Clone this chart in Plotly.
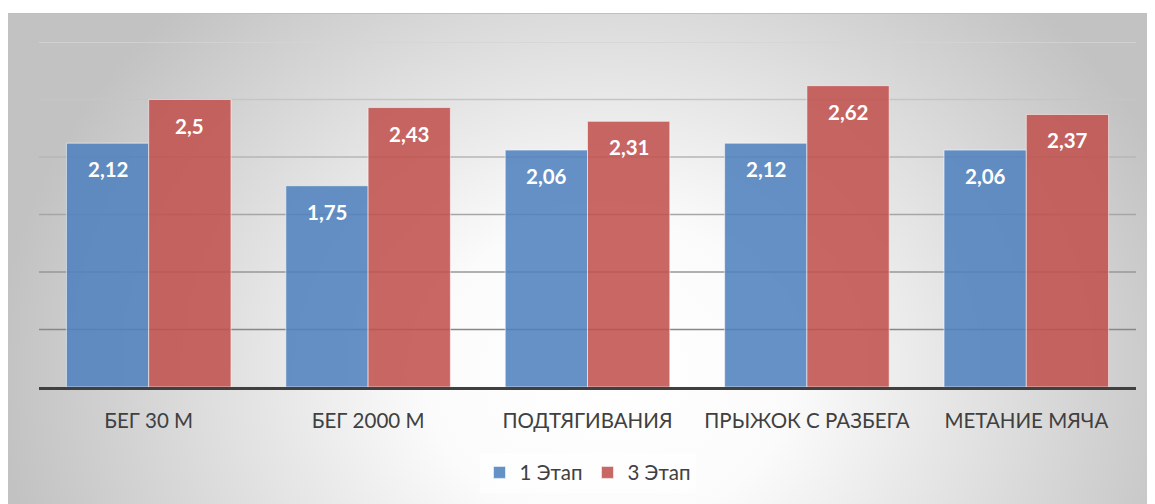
import base64
import plotly.graph_objects as go

categories = ["БЕГ 30 М", "БЕГ 2000 М", "ПОДТЯГИВАНИЯ", "ПРЫЖОК С РАЗБЕГА", "МЕТАНИЕ МЯЧА"]
stage1 = [2.12, 1.75, 2.06, 2.12, 2.06]
stage3 = [2.5, 2.43, 2.31, 2.62, 2.37]
series_names = ["1 Этап", "3 Этап"]
grid_values = [0.5, 1.0, 1.5, 2.0, 2.5, 3.0]

# page has an 8px body margin, so the figure is 8px smaller each way
W, H = 1147, 496
ML, MR, MT, MB = 31, 19, 34, 117
plot_w = W - ML - MR
plot_h = H - MT - MB
BARGAP = 0.25
BG_TOP = 5

blue = "rgba(79,129,189,0.87)"
red = "rgba(192,80,77,0.87)"

fig = go.Figure()
for name, vals, col in [(series_names[0], stage1, blue), (series_names[1], stage3, red)]:
    fig.add_trace(go.Bar(
        x=categories, y=vals, name=name,
        marker=dict(color=col, line=dict(color="rgba(255,255,255,0.55)", width=1)),
        hoverinfo="skip",
    ))

# background gradient (radial, white centre, grey edges)
bw, bh = W, H - BG_TOP
svg = (
    f"<svg xmlns='http://www.w3.org/2000/svg' width='{bw}' height='{bh}'>"
    "<defs><radialGradient id='g' gradientUnits='userSpaceOnUse' cx='600' cy='360' r='610' "
    "gradientTransform='translate(600 360) scale(1 0.85) translate(-600 -360)'>"
    "<stop offset='0' stop-color='#ffffff'/><stop offset='0.3' stop-color='#fbfbfb'/>"
    "<stop offset='1' stop-color='#c2c2c2'/></radialGradient></defs>"
    f"<rect x='0' y='0' width='{bw}' height='{bh}' fill='url(#g)'/>"
    f"<line x1='0' y1='0.5' x2='{bw}' y2='0.5' stroke='#c0c0c0' stroke-width='1'/>"
    "</svg>"
)
src = "data:image/svg+xml;base64," + base64.b64encode(svg.encode()).decode()
fig.add_layout_image(dict(
    source=src, xref="paper", yref="paper",
    x=-ML / plot_w, y=1 + (MT - BG_TOP) / plot_h,
    sizex=bw / plot_w, sizey=bh / plot_h,
    xanchor="left", yanchor="top", sizing="stretch", layer="below",
))

# gridlines with a soft vertical colour fade
def mix(c1, c2, t):
    return "rgb(%d,%d,%d)" % tuple(round(a + (b - a) * t) for a, b in zip(c1, c2))

gmin, gmax = min(grid_values), max(grid_values)
for g in grid_values:
    t = (g - gmin) / (gmax - gmin)
    fig.add_shape(type="line", xref="paper", yref="y", x0=0, x1=1, y0=g, y1=g,
                  line=dict(color=mix((136, 136, 136), (212, 212, 212), t), width=1.3),
                  layer="below")

# data labels inside the top of each bar
bar_w = plot_w / len(categories) * (1 - BARGAP) / 2
for vals, sgn in [(stage1, -1), (stage3, 1)]:
    for c, v in zip(categories, vals):
        fig.add_annotation(
            x=c, y=v, xref="x", yref="y", text=f"{v:g}".replace(".", ","),
            showarrow=False, xshift=sgn * bar_w / 2, yshift=-26, yanchor="middle",
            font=dict(family="Lato", size=20.5, color="white", weight="bold"),
        )

fig.update_layout(
    width=W, height=H,
    margin=dict(l=ML, r=MR, t=MT, b=MB),
    paper_bgcolor="white", plot_bgcolor="rgba(0,0,0,0)",
    barmode="group", bargap=BARGAP, bargroupgap=0,
    font=dict(family="Lato", size=20.5, color="#404040"),
    showlegend=True,
    legend=dict(orientation="h", x=0.5, xanchor="center", y=-0.19, yanchor="top",
                bgcolor="rgba(255,255,255,0.55)", font=dict(size=20.5, color="#404040"),
                itemwidth=30, traceorder="normal"),
    xaxis=dict(showline=True, linecolor="#404040", linewidth=3, ticks="", showgrid=False,
               tickfont=dict(size=20.5, color="#404040"), ticklabelstandoff=13),
    yaxis=dict(range=[0, 3], showgrid=False, showticklabels=False, zeroline=False,
               dtick=0.5),
)

fig.write_html("out.html")
